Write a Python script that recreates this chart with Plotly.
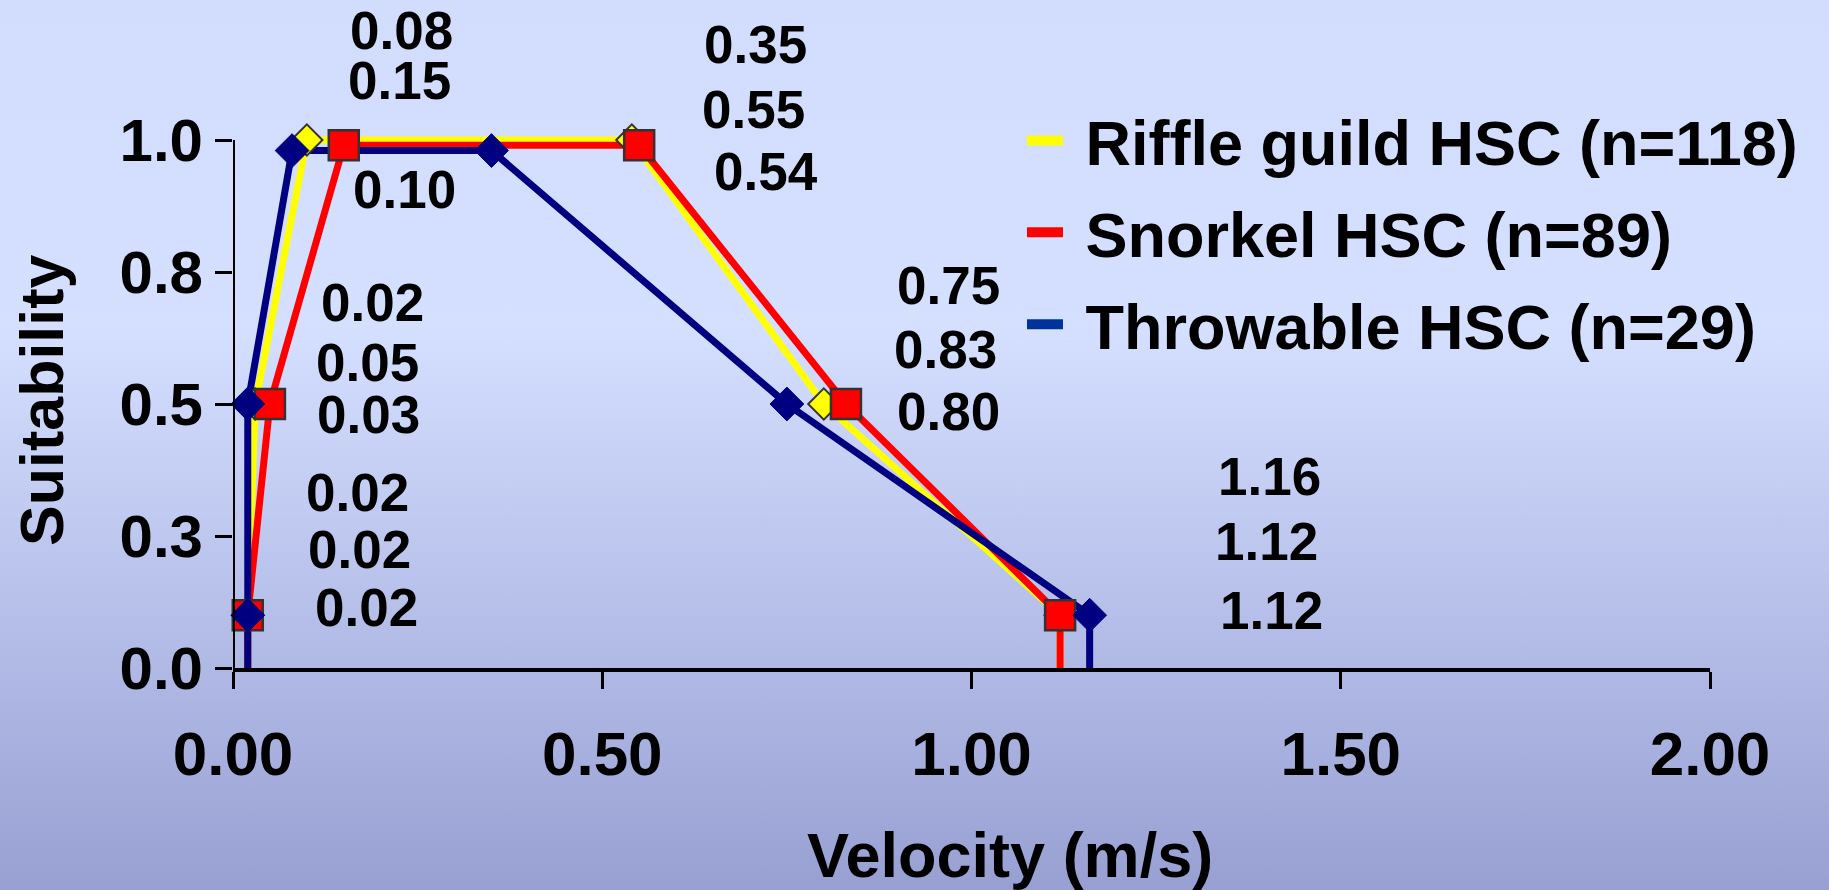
import base64
import plotly.graph_objects as go

# Habitat suitability curves for velocity (m/s)
riffle_x = [0.02, 0.02, 0.03, 0.10, 0.54, 0.80, 1.12, 1.12]
riffle_y = [0.00, 0.10, 0.50, 1.00, 1.00, 0.50, 0.10, 0.00]

snorkel_x = [0.02, 0.02, 0.05, 0.15, 0.55, 0.83, 1.12, 1.12]
snorkel_y = [0.00, 0.10, 0.50, 0.99, 0.99, 0.50, 0.10, 0.00]

throw_x = [0.02, 0.02, 0.02, 0.08, 0.35, 0.75, 1.16, 1.16]
throw_y = [0.00, 0.10, 0.50, 0.98, 0.98, 0.50, 0.10, 0.00]

series_names = ["Riffle guild HSC (n=118)", "Snorkel HSC (n=89)", "Throwable HSC (n=29)"]

x_tickvals = [0.0, 0.5, 1.0, 1.5, 2.0]
x_ticktext = ["0.00", "0.50", "1.00", "1.50", "2.00"]
y_tickvals = [0.0, 0.25, 0.5, 0.75, 1.0]
y_ticktext = ["0.0", "0.3", "0.5", "0.8", "1.0"]

# ---- page geometry (pixels) ----
W, H = 1829, 890
L, R, T, B = 233, 119, 129, 222
PW, PH = W - L - R, H - T - B
Y_TOP = PH / (H - B - 140)          # y=1.0 sits on the top tick


def fx(px):
    return (px - L) / PW


def fy(py):
    return (H - B - py) / PH


FONT = "Liberation Sans, Arial, sans-serif"

# background gradient as an inline svg
svg = (
    f'<svg xmlns="http://www.w3.org/2000/svg" width="{W}" height="{H}">'
    '<defs><linearGradient id="g" x1="0" y1="0" x2="0" y2="1">'
    '<stop offset="0" stop-color="#D2DCFC"/>'
    '<stop offset="0.37" stop-color="#D5DFFF"/>'
    '<stop offset="1" stop-color="#98A0D3"/>'
    '</linearGradient></defs>'
    f'<rect width="{W}" height="{H}" fill="url(#g)"/></svg>'
)
bg_src = "data:image/svg+xml;base64," + base64.b64encode(svg.encode()).decode()

fig = go.Figure()

styles = [
    dict(x=riffle_x, y=riffle_y, color="#FFFF00", sym="diamond", size=24,
         mline=dict(color="#333333", width=2), legend="#FFFF00"),
    dict(x=snorkel_x, y=snorkel_y, color="#FF0000", sym="square", size=30,
         mline=dict(color="#333333", width=2.5), legend="#FF0000"),
    dict(x=throw_x, y=throw_y, color="#000080", sym="diamond", size=26,
         mline=dict(color="#000080", width=1), legend="#003399"),
]

# lines first, then markers on top of every line
for s in styles:
    fig.add_trace(go.Scatter(x=s["x"], y=s["y"], mode="lines",
                             line=dict(color=s["color"], width=7),
                             showlegend=False, hoverinfo="skip"))
for s in styles:
    fig.add_trace(go.Scatter(x=s["x"][1:-1], y=s["y"][1:-1], mode="markers",
                             marker=dict(symbol=s["sym"], size=s["size"], color=s["color"],
                                         line=s["mline"]),
                             cliponaxis=False, showlegend=False))
for name, s in zip(series_names, styles):
    fig.add_trace(go.Scatter(x=[None], y=[None], mode="lines", name="\u00a0" + name,
                             legendgroup=name,
                             line=dict(color=s["legend"], width=12)))

# value labels: groups of (throwable, snorkel, riffle) at each breakpoint
label_groups = [3, 4, 2, 5, 6, 1]
label_pos = [
    [(401, 30), (399, 80), (404, 189)],
    [(755, 45), (753, 109), (766, 172)],
    [(372, 302), (367, 362), (368, 415)],
    [(948, 285), (945, 349), (948, 412)],
    [(1269, 477), (1266, 541), (1271, 610)],
    [(357, 492), (359, 549), (366, 607)],
]
annotations = []
for idx, group in zip(label_groups, label_pos):
    vals = [throw_x[idx], snorkel_x[idx], riffle_x[idx]]
    for v, (px, py) in zip(vals, group):
        annotations.append(dict(
            text=f"{v:.2f}", x=fx(px), y=fy(py), xref="paper", yref="paper",
            xanchor="center", yanchor="middle", showarrow=False,
            font=dict(family=FONT, size=53, color="black", weight="bold")))

annotations.append(dict(
    text="Velocity (m/s)", x=fx(1010), y=fy(855), xref="paper", yref="paper",
    xanchor="center", yanchor="middle", showarrow=False,
    font=dict(family=FONT, size=63, color="black", weight="bold")))
annotations.append(dict(
    text="Suitability", x=fx(42), y=fy(400), xref="paper", yref="paper",
    xanchor="center", yanchor="middle", showarrow=False, textangle=-90,
    font=dict(family=FONT, size=61, color="black", weight="bold")))

axis_common = dict(showgrid=False, zeroline=False, ticks="outside", ticklen=17,
                   tickwidth=3, tickcolor="black", color="black")

fig.update_layout(
    width=W, height=H,
    margin=dict(l=L, r=R, t=T, b=B),
    paper_bgcolor="#D2DCFC",
    plot_bgcolor="rgba(0,0,0,0)",
    images=[dict(source=bg_src, xref="paper", yref="paper",
                 x=fx(0), y=fy(0), sizex=W / PW, sizey=H / PH,
                 xanchor="left", yanchor="top", sizing="stretch", layer="below")],
    xaxis=dict(range=[0, 2], tickvals=x_tickvals, ticktext=x_ticktext,
               showline=True, linecolor="black", linewidth=4,
               ticklabelstandoff=12,
               tickfont=dict(family=FONT, size=62, color="black", weight="bold"),
               **axis_common),
    yaxis=dict(range=[0, Y_TOP], tickvals=y_tickvals, ticktext=y_ticktext,
               showline=False,
               tickfont=dict(family=FONT, size=60, color="black", weight="bold"),
               **axis_common),
    shapes=[dict(type="line", xref="x", yref="y", x0=0, x1=0, y0=0, y1=1,
                 line=dict(color="black", width=4), layer="above")],
    annotations=annotations,
    legend=dict(x=fx(1022), y=fy(93), xanchor="left", yanchor="top",
                bgcolor="rgba(0,0,0,0)", borderwidth=0, itemwidth=36,
                tracegroupgap=7, traceorder="grouped",
                font=dict(family=FONT, size=63, color="black", weight="bold")),
    showlegend=True,
)

fig.write_html("out.html")
